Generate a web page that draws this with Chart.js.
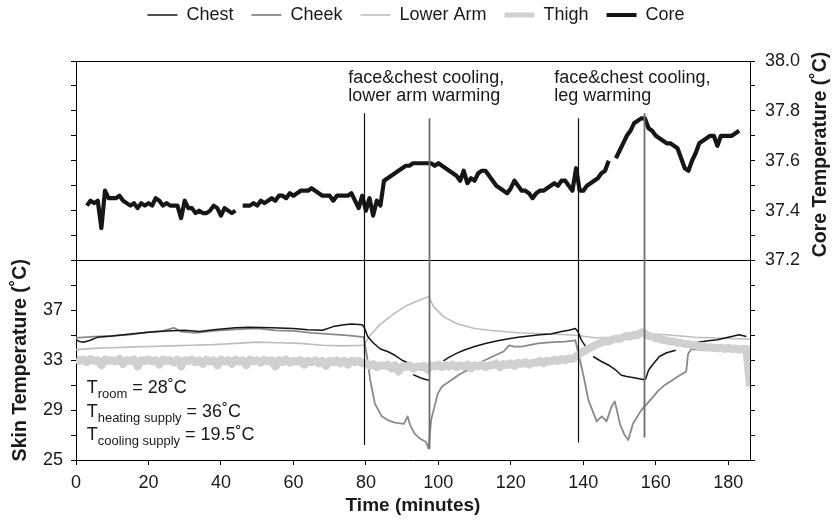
<!DOCTYPE html>
<html>
<head>
<meta charset="utf-8">
<script src="https://cdn.jsdelivr.net/npm/chart.js@4.4.1/dist/chart.umd.min.js"></script>
<style>
  html, body { margin: 0; padding: 0; background: #fff; }
  #wrap { width: 832px; height: 521px; }
</style>
</head>
<body>
<div id="wrap"><canvas id="chart"></canvas></div>
<script>
// skin temperatures (°C)
var chestTime = [0, 1, 2, 4, 6, 10, 15, 20, 25, 30, 34, 38, 44, 48, 54, 60, 64, 68, 71, 74, 76, 79, 79.6, 80.5, 82, 84, 86, 88, 90, 91.5, 92.2, 93, 95, 96.5, 97.4, 97.6, 101.4, 103, 105, 107, 110, 113, 116, 119, 122, 125, 128, 131, 134, 136, 137.8, 138.5, 139.5, 141, 141.8, 142.7, 145, 147, 149, 150.5, 152, 154, 156.5, 157.2, 158, 159, 161, 163, 165.5, 166.5, 171, 174, 177, 180, 183, 185];
var chestTemp = [34.65, 34.5, 34.45, 34.6, 34.85, 34.95, 35.1, 35.25, 35.35, 35.4, 35.3, 35.45, 35.6, 35.65, 35.6, 35.55, 35.45, 35.4, 35.7, 35.85, 35.9, 35.85, 35.6, 34.9, 34.4, 33.9, 33.7, 33.4, 33.0, 32.8, null, 31.85, 31.6, 31.45, 31.4, null, 32.95, 33.25, 33.55, 33.8, 34.1, 34.35, 34.55, 34.7, 34.85, 34.95, 35.05, 35.1, 35.3, 35.4, 35.55, 35.3, 34.6, 33.95, null, 33.3, 32.9, 32.6, 32.2, 31.8, 31.7, 31.6, 31.45, 31.5, 32.2, 32.6, 33.3, 33.6, 33.8, null, 34.4, 34.55, 34.65, 34.85, 35.05, 34.9];

var cheekTime = [0, 5, 10, 15, 20, 24, 27, 29, 33, 38, 45, 50, 55, 60, 65, 70, 75, 79.4, 80.3, 81.2, 82.5, 84.4, 86, 88, 90.5, 91.5, 92.2, 93.5, 95, 96.6, 97.3, 98, 99.8, 101, 103.5, 106, 109, 112.8, 115, 118, 119.5, 121, 123, 127.5, 131.6, 135, 137.8, 138.7, 140.1, 141.4, 143.7, 145.1, 146.4, 147.8, 148.7, 150.1, 151.4, 152.4, 153.7, 156, 158.8, 160.5, 162.4, 164, 166.1, 168.4, 168.9, 169.8, 172, 175.3, 178, 181, 184.5, 186];
var cheekTemp = [34.8, 34.9, 34.95, 35.05, 35.25, 35.35, 35.6, 35.3, 35.2, 35.35, 35.5, 35.55, 35.4, 35.35, 35.2, 35.1, 35.0, 34.85, 33.3, 31.4, 29.5, 28.5, 28.2, 28.0, 27.9, 28.5, 27.8, 27.1, 26.7, 26.45, 25.9, 28.2, 30.3, 30.9, 31.4, 31.9, 32.35, 33.0, 33.3, 33.7, 34.2, 34.1, 34.1, 34.35, 34.45, 34.5, 34.6, 33.5, 31.7, 29.8, 28.1, 28.5, 28.1, 29.3, 29.7, 27.9, 27.0, 26.6, 27.9, 29.0, 29.9, 30.5, 31.0, 31.3, 31.7, 32.1, 33.5, 33.9, 33.85, 33.8, 33.85, 33.95, 34.05, 34.0];

var armTime = [0, 5, 10, 14, 20, 26, 32, 38, 44, 50, 56, 62, 68, 74, 79.4, 81.2, 84, 87.6, 91.3, 95, 97.3, 98.7, 101.4, 105, 110, 114, 118, 122, 127, 132, 137.8, 143.3, 148, 152.5, 158, 163, 170.7, 175, 180, 186];
var armTemp = [33.85, 33.95, 34.0, 34.05, 34.1, 34.15, 34.2, 34.25, 34.35, 34.45, 34.4, 34.35, 34.2, 34.15, 34.2, 35.0, 35.9, 36.7, 37.4, 37.85, 38.1, 37.3, 36.5, 35.95, 35.55, 35.4, 35.3, 35.2, 35.15, 35.1, 35.0, 34.8, 34.85, 35.0, 35.1, 35.05, 34.85, 34.8, 34.75, 34.7];

// thigh, one reading per minute from minute 0 (noisy band)
var thighTemp = [
  33.1, 32.95, 33.05, 32.85, 33.1, 32.95, 33.0, 32.6, 33.05, 32.95,
  33.0, 32.9, 33.1, 32.7, 33.0, 32.95, 33.05, 32.5, 33.0, 32.95,
  33.05, 32.9, 33.0, 32.65, 33.05, 32.95, 33.0, 32.8, 33.05, 32.5,
  33.0, 32.95, 33.05, 32.85, 33.0, 32.7, 33.05, 32.9, 33.0, 32.6,
  33.05, 32.9, 33.0, 32.7, 33.05, 32.9, 33.0, 32.6, 33.05, 32.9,
  33.0, 32.8, 33.05, 32.9, 33.0, 32.5, 33.0, 32.85, 33.05, 32.8,
  32.95, 32.9, 33.0, 32.65, 32.95, 32.85, 33.0, 32.75, 32.95, 32.55,
  32.95, 32.85, 33.0, 32.75, 32.95, 32.65, 32.95, 32.85, 32.95, 32.75,
  32.75, 32.55, 32.7, 32.45, 32.6, 32.55, 32.65, 32.35, 32.6, 32.1,
  32.5, 32.45, 32.6, 32.35, 32.5, 32.45, 32.55, 32.25, 32.6, 32.5,
  32.65, 32.45, 32.6, 32.5, 32.65, 32.45, 32.6, 32.5, 32.65, 32.35,
  32.6, 32.5, 32.65, 32.45, 32.6, 32.6, 32.75, 32.45, 32.7, 32.6,
  32.75, 32.55, 32.8, 32.7, 32.85, 32.65, 32.8, 32.8, 32.95, 32.75,
  32.95, 32.9, 33.05, 32.95, 33.1, 33.0, 33.15, 33.1, 33.3, 33.5,
  33.7, 33.85, 34.0, 34.15, 34.3, 34.4, 34.55, 34.5, 34.65, 34.75,
  34.7, 34.85, 34.95, 34.9, 35.05, 35.0, 35.25, 35.15, 34.95, 34.9,
  34.75, 34.75, 34.6, 34.6, 34.5, 34.5, 34.4, 34.4, 34.3, 34.3,
  34.2, 34.2, 34.1, 34.15, 34.0, 34.05, 34.0, 33.95, 34.0, 33.9,
  34.0, 33.9, 33.95, 33.85, 33.9, 33.9, 30.9
];

// core temperature, one reading per minute from minute 3
var coreStart = 3;
var coreTemp = [
  37.42, 37.44, 37.43, 37.44, 37.33, 37.48, 37.45, 37.45, 37.45, 37.46,
  37.44, 37.43, 37.42, 37.43, 37.41, 37.43, 37.42, 37.43, 37.42, 37.45,
  37.44, 37.42, 37.43, 37.42, 37.42, 37.42, 37.37, 37.44, 37.41, 37.41,
  37.39, 37.40, 37.39, 37.39, 37.40, 37.42, 37.41, 37.38, 37.41, 37.40,
  37.39, 37.40, null, 37.42, 37.42, 37.42, 37.43, 37.42, 37.44, 37.43,
  37.44, 37.45, 37.44, 37.46, 37.46, 37.45, 37.47, 37.46, 37.47, 37.48,
  37.48, 37.48, 37.49, 37.48, 37.47, 37.46, 37.46, 37.46, 37.44, 37.46,
  37.46, 37.46, 37.46, 37.47, 37.44, 37.41, 37.46, 37.40, 37.45, 37.38,
  37.44, 37.42, 37.52, 37.53, 37.54, 37.55, 37.56, 37.57, 37.58, 37.58,
  37.59, 37.59, 37.59, 37.59, 37.59, 37.59, 37.58, 37.59, 37.58, 37.57,
  37.56, 37.55, 37.54, 37.52, 37.56, 37.51, 37.53, 37.52, 37.55, 37.56,
  37.56, 37.54, 37.52, 37.50, 37.49, 37.48, 37.47, 37.49, 37.52, 37.50,
  37.48, 37.48, 37.47, 37.45, 37.47, 37.48, 37.48, 37.49, 37.50, 37.51,
  37.50, 37.52, 37.52, 37.50, 37.48, 37.57, 37.48, 37.48, 37.50, 37.51,
  37.52, 37.53, 37.55, 37.56, 37.60, null, 37.61, 37.64, 37.67, 37.70,
  37.72, 37.75, 37.76, 37.77, 37.77, 37.73, 37.72, 37.70, 37.69, 37.68,
  37.67, 37.67, 37.66, 37.65, 37.61, 37.57, 37.56, 37.60, 37.63, 37.67,
  37.68, 37.69, 37.70, 37.70, 37.66, 37.70, 37.70, 37.70, 37.70, 37.71, 37.72
];

// axis labels
var skinLabels = [25, 29, 33, 37];
var coreLabels = [37.2, 37.4, 37.6, 37.8, 38.0];

// protocol events (minutes) and how far each marker line reaches
var eventTimes = [79.4, 97.4, 138.4, 156.8];
var eventTops = [37.79, 37.77, 37.77, 37.79];      // core scale
var eventBottoms = [26.2, 25.9, 26.4, 26.8];       // skin scale

var FONT = '"Liberation Sans", Arial, Helvetica, sans-serif';
Chart.defaults.font.family = FONT;
Chart.defaults.color = '#1a1a1a';

function pairs(times, values) {
  return times.map(function (t, i) { return {x: t, y: values[i]}; });
}
function perMinute(start, values) {
  return values.map(function (v, i) { return {x: start + i, y: v}; });
}

// legend sits well above the plot, so give it its own height
var legendSpace = {
  id: 'legendSpace',
  beforeInit: function (chart) {
    var fit = chart.legend.fit;
    chart.legend.fit = function () {
      fit.call(this);
      this.height = 73;
    };
  }
};

// frame top, event markers, notes and side titles
var overlay = {
  id: 'overlay',
  afterDatasetsDraw: function (chart) {
    var ctx = chart.ctx, a = chart.chartArea;
    var x = chart.scales.x, yL = chart.scales.yL, yR = chart.scales.yR;
    ctx.save();

    ctx.strokeStyle = '#000';
    ctx.lineWidth = 1;
    ctx.beginPath();
    ctx.moveTo(a.left, Math.round(a.top) + 0.5);
    ctx.lineTo(a.right, Math.round(a.top) + 0.5);
    ctx.stroke();

    eventTimes.forEach(function (t, i) {
      var px = Math.round(x.getPixelForValue(t)) + 0.5;
      ctx.strokeStyle = (i % 2) ? '#6e6e6e' : '#111';
      ctx.lineWidth = (i % 2) ? 1.8 : 1.2;
      ctx.beginPath();
      ctx.moveTo(px, yR.getPixelForValue(eventTops[i]));
      ctx.lineTo(px, yL.getPixelForValue(eventBottoms[i]));
      ctx.stroke();
    });

    ctx.fillStyle = '#1a1a1a';
    ctx.font = '18px ' + FONT;
    ctx.textAlign = 'left';
    ctx.textBaseline = 'middle';
    var notes = [
      {t: 75.1, lines: ['face&chest cooling,', 'lower arm warming']},
      {t: 132.0, lines: ['face&chest cooling,', 'leg warming']}
    ];
    notes.forEach(function (n) {
      var nx = x.getPixelForValue(n.t);
      ctx.fillText(n.lines[0], nx, yR.getPixelForValue(37.932));
      ctx.fillText(n.lines[1], nx, yR.getPixelForValue(37.858));
    });

    // supply temperatures
    var supply = [['room', ' = 28˚C'], ['heating supply', ' = 36˚C'], ['cooling supply', ' = 19.5˚C']];
    ctx.textBaseline = 'alphabetic';
    var bx = x.getPixelForValue(2.95);
    var by = yL.getPixelForValue(30.38);
    supply.forEach(function (s, i) {
      var yy = by + i * 23.7, cx = bx;
      ctx.font = '18px ' + FONT;
      ctx.fillText('T', cx, yy);
      cx += ctx.measureText('T').width;
      ctx.font = '13px ' + FONT;
      ctx.fillText(s[0], cx, yy + 5);
      cx += ctx.measureText(s[0]).width;
      ctx.font = '18px ' + FONT;
      ctx.fillText(s[1], cx, yy);
    });

    ctx.font = 'bold 19.5px ' + FONT;
    ctx.textAlign = 'center';
    ctx.textBaseline = 'middle';
    ctx.save();
    ctx.translate(21, yL.getPixelForValue(33));
    ctx.rotate(-Math.PI / 2);
    ctx.fillText('Skin Temperature (˚C)', 0, 0);
    ctx.restore();
    ctx.save();
    ctx.translate(821, yR.getPixelForValue(37.625));
    ctx.rotate(-Math.PI / 2);
    ctx.fillText('Core Temperature (˚C)', 0, 0);
    ctx.restore();

    ctx.restore();
  }
};

var tickFont = {size: 18};

new Chart(document.getElementById('chart'), {
  type: 'line',
  data: {
    datasets: [
      {label: 'Chest', data: pairs(chestTime, chestTemp), yAxisID: 'yL', borderColor: '#161616', borderWidth: 1.5},
      {label: 'Cheek', data: pairs(cheekTime, cheekTemp), yAxisID: 'yL', borderColor: '#8a8a8a', borderWidth: 1.8},
      {label: 'Lower Arm', data: pairs(armTime, armTemp), yAxisID: 'yL', borderColor: '#bdbdbd', borderWidth: 1.6},
      {label: 'Thigh', data: perMinute(0, thighTemp), yAxisID: 'yL', borderColor: '#d0d0d0', borderWidth: 8, pointBorderWidth: 5, order: -1},
      {label: 'Core', data: perMinute(coreStart, coreTemp), yAxisID: 'yR', borderColor: '#161616', borderWidth: 4.2, pointBorderWidth: 4}
    ]
  },
  options: {
    responsive: true,
    maintainAspectRatio: false,
    animation: false,
    spanGaps: false,
    layout: {padding: {top: -12, left: 0, right: 0, bottom: 0}},
    elements: {
      point: {radius: 0, hoverRadius: 0},
      line: {tension: 0, borderJoinStyle: 'round', borderCapStyle: 'butt'}
    },
    plugins: {
      tooltip: {enabled: false},
      legend: {
        position: 'top',
        labels: {
          usePointStyle: true,
          pointStyle: 'line',
          pointStyleWidth: 30,
          padding: 18,
          font: {size: 18},
          color: '#1a1a1a',
          sort: function (a, b) { return a.datasetIndex - b.datasetIndex; }
        }
      }
    },
    scales: {
      x: {
        type: 'linear',
        min: 0,
        max: 186,
        ticks: {stepSize: 20, includeBounds: false, autoSkip: false, maxRotation: 0, padding: 7, font: tickFont},
        grid: {drawOnChartArea: false, tickLength: 5, tickColor: '#000'},
        border: {color: '#000'},
        title: {display: true, text: 'Time (minutes)', font: {size: 19, weight: 'bold'}, padding: {top: 4, bottom: 4}},
        afterFit: function (s) { s.height = 61; }
      },
      yL: {
        position: 'left',
        min: 25,
        max: 57,
        ticks: {
          stepSize: 2, autoSkip: false, padding: 8, font: tickFont,
          callback: function (v) { return skinLabels.indexOf(v) >= 0 ? String(v) : ''; }
        },
        grid: {drawOnChartArea: false, tickLength: 5, tickColor: '#000'},
        border: {color: '#000'},
        afterFit: function (s) { s.width = 76; }
      },
      yR: {
        position: 'right',
        min: 36.4,
        max: 38.0,
        ticks: {
          stepSize: 0.1, autoSkip: false, padding: 10, font: tickFont,
          callback: function (v) {
            return coreLabels.some(function (c) { return Math.abs(c - v) < 1e-6; }) ? v.toFixed(1) : '';
          }
        },
        grid: {
          drawOnChartArea: true,
          tickLength: 5,
          tickColor: '#000',
          color: function (c) {
            return (c.tick && Math.abs(c.tick.value - 37.2) < 1e-6) ? '#000' : 'rgba(0,0,0,0)';
          }
        },
        border: {color: '#000'},
        afterFit: function (s) { s.width = 82; }
      }
    }
  },
  plugins: [legendSpace, overlay]
});
</script>
</body>
</html>
